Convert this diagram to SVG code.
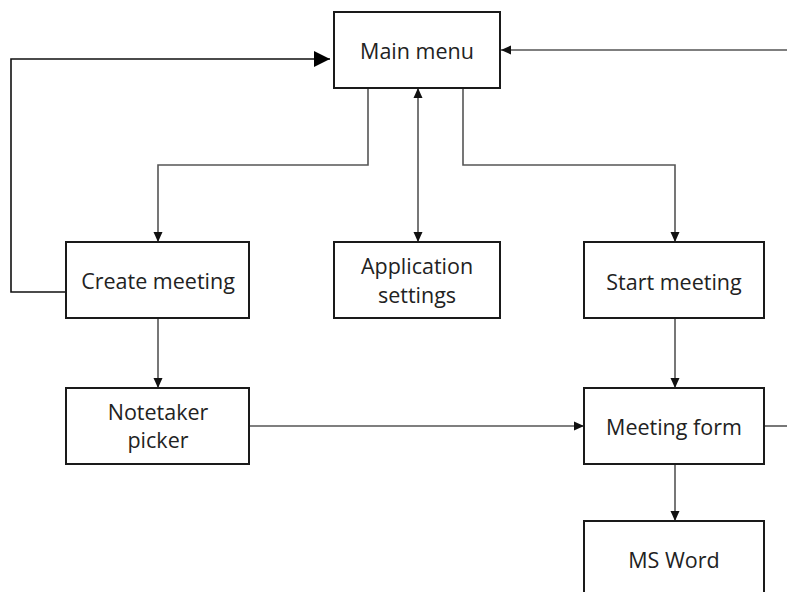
<svg xmlns="http://www.w3.org/2000/svg" width="787" height="592" viewBox="0 0 787 592">
<style>
.box{fill:#fff;stroke:#1a1a1a;stroke-width:2}
.lbl{font-family:"Open Sans","Noto Sans",sans-serif;font-size:21.5px;fill:#222;text-anchor:middle}
.c{fill:none;stroke:#555;stroke-width:1.6}
.ck{fill:none;stroke:#111;stroke-width:1.6}
</style>
<defs>
<marker id="a" viewBox="0 0 10 10" refX="10" refY="5" markerUnits="userSpaceOnUse" markerWidth="10" markerHeight="10" orient="auto-start-reverse">
<path d="M0,0.5 L10,5 L0,9.5 z" fill="#111"/>
</marker>
<marker id="big" viewBox="0 0 16 16" refX="16" refY="8" markerUnits="userSpaceOnUse" markerWidth="16" markerHeight="16" orient="auto">
<path d="M0,0 L16,8 L0,16 z" fill="#000"/>
</marker>
</defs>
<g id="connectors">
<path class="ck" d="M66,292 H11 V59 H330" marker-end="url(#big)"/>
<path class="c" d="M787,50 H501" marker-end="url(#a)"/>
<path class="c" d="M368,88 V165 H158 V242" marker-end="url(#a)"/>
<path class="c" d="M418,88 V242" marker-start="url(#a)" marker-end="url(#a)"/>
<path class="c" d="M463,88 V165 H675 V242" marker-end="url(#a)"/>
<path class="c" d="M158,318 V388" marker-end="url(#a)"/>
<path class="c" d="M249,426 H584" marker-end="url(#a)"/>
<path class="c" d="M764,426 H787"/>
<path class="c" d="M675,318 V388" marker-end="url(#a)"/>
<path class="c" d="M675,464 V521" marker-end="url(#a)"/>
</g>
<g id="main-menu">
<rect class="box" x="334" y="12" width="166" height="76"/>
<text class="lbl" x="417" y="59">Main menu</text>
</g>
<g id="create-meeting">
<rect class="box" x="66" y="242" width="183" height="76"/>
<text class="lbl" x="158" y="289">Create meeting</text>
</g>
<g id="application-settings">
<rect class="box" x="334" y="242" width="166" height="76"/>
<text class="lbl" x="417" y="274">Application</text>
<text class="lbl" x="417" y="303">settings</text>
</g>
<g id="start-meeting">
<rect class="box" x="584" y="242" width="180" height="76"/>
<text class="lbl" x="674" y="290">Start meeting</text>
</g>
<g id="notetaker-picker">
<rect class="box" x="66" y="388" width="183" height="76"/>
<text class="lbl" x="158" y="420">Notetaker</text>
<text class="lbl" x="158" y="448">picker</text>
</g>
<g id="meeting-form">
<rect class="box" x="584" y="388" width="180" height="76"/>
<text class="lbl" x="674" y="435">Meeting form</text>
</g>
<g id="ms-word">
<rect class="box" x="584" y="521" width="180" height="90"/>
<text class="lbl" x="674" y="568">MS Word</text>
</g>
</svg>
